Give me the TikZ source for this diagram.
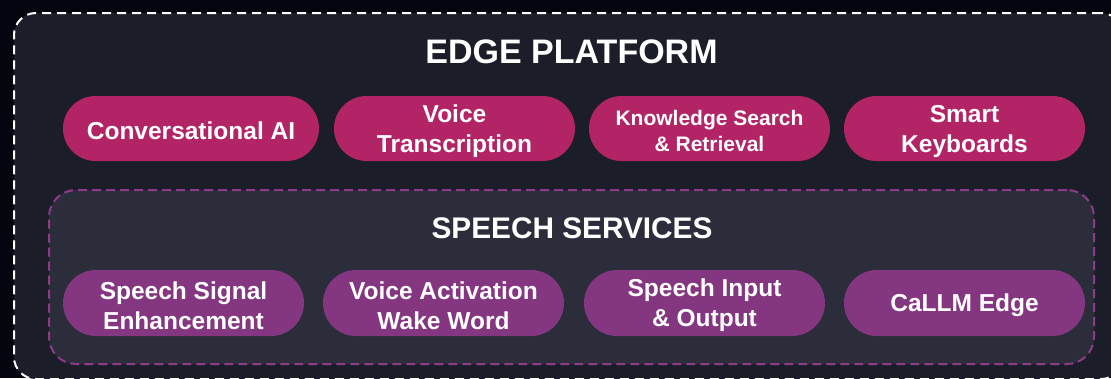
\documentclass[tikz,border=0pt]{standalone}
\usepackage{fontspec}
\setmainfont{Liberation Sans}
\definecolor{pagebg}{HTML}{03060F}
\definecolor{platformfill}{HTML}{1B1E28}
\definecolor{speechfill}{HTML}{2B2D3A}
\definecolor{crimson}{HTML}{B22465}
\definecolor{plum}{HTML}{843680}
\definecolor{plumline}{HTML}{8E3A8A}
\tikzset{
  platformbox/.style={draw=white, fill=platformfill, line width=2pt,
    dash pattern=on 9pt off 6pt, rounded corners=22pt, inner sep=0pt},
  speechbox/.style={draw=plumline, fill=speechfill, line width=2pt,
    dash pattern=on 9pt off 5pt, rounded corners=27pt, inner sep=0pt},
  pill/.style={rounded corners=32.5pt, minimum height=65pt, inner sep=0pt},
  toppill/.style={pill, fill=crimson},
  lowpill/.style={pill, fill=plum, minimum height=66pt, rounded corners=33pt},
  pilltext/.style={inner sep=0pt, text=white, align=center,
    font=\bfseries\fontsize{24.5}{30}\selectfont},
  smalltext/.style={pilltext, font=\bfseries\fontsize{21}{26}\selectfont},
  heading/.style={text=white, inner sep=0pt}
}
\begin{document}
\begin{tikzpicture}[x=1pt, y=-1pt]
  \useasboundingbox (0,0) rectangle (1111,378);
  \fill[pagebg] (0,0) rectangle (1111,378);

  % outer platform frame and inner speech-services frame
  \node[platformbox, minimum width=1109pt, minimum height=366pt] (platform) at (568.5,196) {};
  \node[speechbox, minimum width=1045pt, minimum height=174pt] (speech) at (571.5,277) {};

  % headings
  \node[heading, font=\bfseries\fontsize{34}{39}\selectfont] (edgetitle) at (571.5,52) {EDGE PLATFORM};
  \node[heading, font=\bfseries\fontsize{29.8}{34}\selectfont] (speechtitle) at (572,228.5) {SPEECH SERVICES};

  % platform applications
  \node[toppill, minimum width=256pt] (conv) at (191,128.5) {};
  \node[toppill, minimum width=241pt] (voice) at (454.5,128.5) {};
  \node[toppill, minimum width=241pt] (know) at (709.5,128.5) {};
  \node[toppill, minimum width=241pt] (keys) at (964.5,128.5) {};
  \node[pilltext] (convtext) at ([yshift=-2.5pt]conv.center) {Conversational AI};
  \node[pilltext] (voicetext) at ([yshift=-2.5pt]voice.center) {Voice\\Transcription};
  \node[smalltext] (knowtext) at ([yshift=-2pt]know.center) {Knowledge Search\\\& Retrieval};
  \node[pilltext] (keystext) at ([yshift=-2.5pt]keys.center) {Smart\\Keyboards};

  % speech services
  \node[lowpill, minimum width=241pt] (ssig) at (183.5,303) {};
  \node[lowpill, minimum width=241pt] (wake) at (443.5,303) {};
  \node[lowpill, minimum width=241pt] (sio) at (704.5,303) {};
  \node[lowpill, minimum width=241pt] (callm) at (964.5,303) {};
  \node[pilltext] (ssigtext) at ([yshift=-2.5pt]ssig.center) {Speech Signal\\Enhancement};
  \node[pilltext] (waketext) at ([yshift=-2.5pt]wake.center) {Voice Activation\\Wake Word};
  \node[pilltext] (siotext) at ([yshift=-2.5pt]sio.center) {Speech Input\\\& Output};
  \node[pilltext] (callmtext) at ([yshift=-2.5pt]callm.center) {CaLLM Edge};
\end{tikzpicture}
\end{document}
